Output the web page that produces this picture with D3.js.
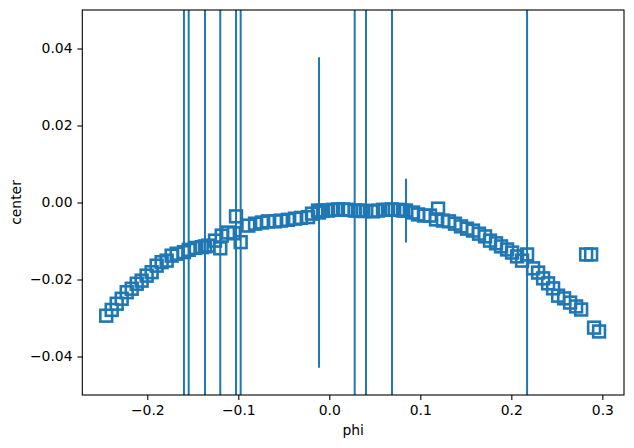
<!DOCTYPE html>
<html><head><meta charset="utf-8">
<script src="https://cdn.jsdelivr.net/npm/d3@7"></script>
<style>body{margin:0;background:#fff}svg{display:block}text{font-family:"DejaVu Sans",sans-serif}</style>
</head><body><svg id="c" width="634" height="448"></svg>
<script>
const phi = [-0.2451,-0.2391,-0.2336,-0.2281,-0.2226,-0.2171,-0.2116,-0.2062,-0.2007,-0.1952,-0.1897,-0.1842,-0.1787,-0.1732,-0.1677,-0.1597,-0.1545,-0.1476,-0.1402,-0.1366,-0.1330,-0.1256,-0.1198,-0.1182,-0.1113,-0.1047,-0.1025,-0.0974,-0.0890,-0.0816,-0.0740,-0.0674,-0.0597,-0.0531,-0.0454,-0.0377,-0.0311,-0.0234,-0.0190,-0.0124,-0.0113,-0.0069,-0.0014,0.0041,0.0096,0.0151,0.0205,0.0279,0.0315,0.0370,0.0403,0.0480,0.0535,0.0590,0.0645,0.0689,0.0755,0.0810,0.0843,0.0920,0.0975,0.1040,0.1106,0.1173,0.1195,0.1249,0.1315,0.1381,0.1447,0.1513,0.1579,0.1645,0.1711,0.1766,0.1832,0.1887,0.1953,0.2008,0.2063,0.2118,0.2173,0.2239,0.2294,0.2349,0.2404,0.2459,0.2514,0.2580,0.2646,0.2712,0.2767,0.2822,0.2877,0.2909,0.2964];
const center = [-0.0294,-0.0279,-0.0263,-0.0250,-0.0233,-0.0224,-0.0211,-0.0203,-0.0190,-0.0181,-0.0164,-0.0155,-0.0151,-0.0138,-0.0133,-0.0129,-0.0123,-0.0118,-0.0116,-0.0114,-0.0112,-0.0099,-0.0119,-0.0086,-0.0078,-0.0080,-0.0036,-0.0103,-0.0060,-0.0055,-0.0052,-0.0049,-0.0049,-0.0047,-0.0045,-0.0042,-0.0040,-0.0038,-0.0029,-0.0021,-0.0026,-0.0021,-0.0021,-0.0019,-0.0018,-0.0018,-0.0019,-0.0021,-0.0021,-0.0022,-0.0022,-0.0023,-0.0021,-0.0019,-0.0019,-0.0018,-0.0019,-0.0021,-0.0021,-0.0026,-0.0031,-0.0034,-0.0034,-0.0044,-0.0016,-0.0047,-0.0049,-0.0055,-0.0062,-0.0068,-0.0073,-0.0081,-0.0088,-0.0099,-0.0106,-0.0114,-0.0122,-0.0130,-0.0140,-0.0151,-0.0135,-0.0171,-0.0182,-0.0197,-0.0210,-0.0223,-0.0242,-0.0249,-0.0260,-0.0270,-0.0278,-0.0135,-0.0135,-0.0325,-0.0335];
const err = [0,0,0,0,0,0,0,0,0,0,0,0,0,0,0,0.2,0.2,0,0,0.2,0,0,0.2,0,0,0,0.2,0.2,0,0,0,0,0,0,0,0,0,0,0,0,0.0403,0,0,0,0,0,0,0.2,0,0,0.2,0,0,0,0,0.2,0,0,0.0083,0,0,0,0,0,0,0,0,0,0,0,0,0,0,0,0,0,0,0,0,0,0.2,0,0,0,0,0,0,0,0,0,0,0,0,0,0];
const xTicks = [-0.2,-0.1,0.0,0.1,0.2,0.3];
const yTicks = [-0.04,-0.02,0.00,0.02,0.04];
const xLabel = "phi", yLabel = "center";

const L=82.3,R=624,T=10,B=395, col="#1f77b4";
const svg=d3.select("#c");
const x=d3.scaleLinear().domain([-0.2714,0.3238]).range([L,R]);
const y=d3.scaleLinear().domain([-0.05,0.05]).range([B,T]);
const fmt=(d,p)=>{const s=d.toFixed(p);return s.replace("-","\u2212");};

svg.append("defs").append("clipPath").attr("id","clip").append("rect")
  .attr("x",L).attr("y",T).attr("width",R-L).attr("height",B-T);
const g=svg.append("g").attr("clip-path","url(#clip)");
const pts=phi.map((p,i)=>({p,c:center[i],e:err[i]}));
g.selectAll("line.eb").data(pts.filter(d=>d.e>0)).join("line")
  .attr("x1",d=>x(d.p)).attr("x2",d=>x(d.p))
  .attr("y1",d=>y(d.c-d.e)).attr("y2",d=>y(d.c+d.e))
  .attr("stroke",col).attr("stroke-width",2);
const ms=11.8;
g.selectAll("rect.m").data(pts).join("rect")
  .attr("x",d=>x(d.p)-ms/2).attr("y",d=>y(d.c)-ms/2)
  .attr("width",ms).attr("height",ms)
  .attr("fill","none").attr("stroke",col).attr("stroke-width",2.6);

const xa=svg.append("g").attr("transform",`translate(0,${B})`)
  .call(d3.axisBottom(x).tickValues(xTicks).tickSize(4.9).tickPadding(4.9).tickFormat(d=>fmt(d,1)));
const ya=svg.append("g").attr("transform",`translate(${L},0)`)
  .call(d3.axisLeft(y).tickValues(yTicks).tickSize(4.9).tickPadding(4.9).tickFormat(d=>fmt(d,2)));
[xa,ya].forEach(a=>{a.select(".domain").remove();
  a.selectAll("line").attr("stroke","#000").attr("stroke-width",1.1);
  a.selectAll("text").attr("font-size",13.9).attr("fill","#000").attr("font-family","DejaVu Sans");});
svg.append("rect").attr("x",L).attr("y",T).attr("width",R-L).attr("height",B-T)
  .attr("fill","none").attr("stroke","#000").attr("stroke-width",1.1);
svg.append("text").attr("x",(L+R)/2).attr("y",435).attr("text-anchor","middle")
  .attr("font-size",13.9).text(xLabel);
svg.append("text").attr("transform",`translate(21,${(T+B)/2}) rotate(-90)`).attr("text-anchor","middle")
  .attr("font-size",13.9).text(yLabel);
</script></body></html>
